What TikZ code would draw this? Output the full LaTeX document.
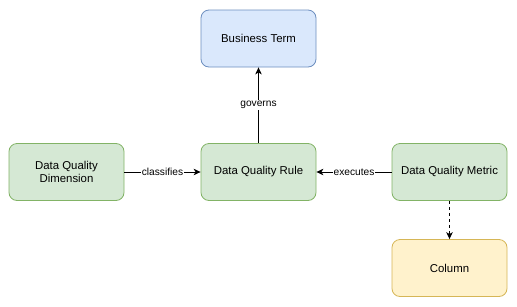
\documentclass[tikz,border=0pt]{standalone}
\usepackage{fontspec}
\setmainfont{Liberation Sans}
\usepackage{tikz}
\usetikzlibrary{arrows.meta}
\definecolor{termfill}{HTML}{DAE8FC}
\definecolor{termline}{HTML}{6C8EBF}
\definecolor{dqfill}{HTML}{D5E8D4}
\definecolor{dqline}{HTML}{82B366}
\definecolor{colfill}{HTML}{FFF2CC}
\definecolor{colline}{HTML}{D6B656}

\begin{document}
\begin{tikzpicture}[x=1pt,y=-1pt,>={Stealth[length=7pt,width=6.5pt,inset=2pt]},font=\fontsize{11.4}{13.5}\selectfont,
  box/.style={draw,rounded corners=8pt,minimum width=115pt,minimum height=57pt,align=center,line width=0.8pt},
  termbox/.style={box,fill=termfill,draw=termline},
  dqbox/.style={box,fill=dqfill,draw=dqline},
  colbox/.style={box,fill=colfill,draw=colline},
  link/.style={->,line width=1pt},
  lbl/.style={fill=white,inner sep=1pt,font=\fontsize{10.2}{12}\selectfont}]
\useasboundingbox (0,0) rectangle (517,306);
\node[termbox] (term) at (258.5,38.5) {Business Term};
\node[dqbox] (dim) at (66.5,172) {Data Quality\\Dimension};
\node[dqbox] (rule) at (258.5,172) {Data Quality Rule};
\node[dqbox] (metric) at (449.5,172) {Data Quality Metric};
\node[colbox] (col) at (449.5,268) {Column};
\draw[link] (rule) -- node[lbl]{governs} (term);
\draw[link] (dim) -- node[lbl]{classifies} (rule);
\draw[link] (metric) -- node[lbl]{executes} (rule);
\draw[link,dash pattern=on 3pt off 3pt] (metric) -- (col);
\end{tikzpicture}
\end{document}
